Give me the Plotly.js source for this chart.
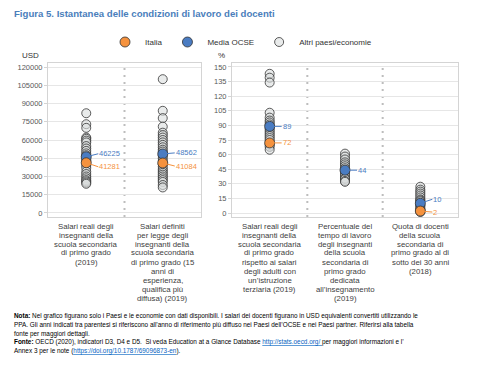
<!DOCTYPE html>
<html><head><meta charset="utf-8">
<script src="https://cdn.plot.ly/plotly-3.0.1.min.js"></script>
<style>html,body{margin:0;padding:0;background:#fff}</style>
</head><body><div id="chart" style="width:482px;height:372px"></div>
<script>
// ---- DATA ----
const leftCategories = ['salari_reali', 'salari_legge'];
const rightCategories = ['salari_relativi', 'tempo_insegnamento', 'docenti_under30'];

const leftLabels = [
  ['Salari reali degli', 'insegnanti della', 'scuola secondaria', 'di primo grado', '(2019)'],
  ['Salari definiti', 'per legge degli', 'insegnanti della', 'scuola secondaria', 'di primo grado (15', 'anni di', 'esperienza,', 'qualifica più', 'diffusa) (2019)']
];
const rightLabels = [
  ['Salari reali degli', 'insegnanti della', 'scuola secondaria', 'di primo grado', 'rispetto ai salari', 'degli adulti con', 'un\u2019istruzione', 'terziaria (2019)'],
  ['Percentuale del', 'tempo di lavoro', 'degli insegnanti', 'della scuola', 'secondaria di', 'primo grado', 'dedicata', 'all\u2019insegnamento', '(2019)'],
  ['Quota di docenti', 'della scuola', 'secondaria di', 'primo grado al di', 'sotto dei 30 anni', '(2018)']
];

const leftOthers = [
  [82000, 73000, 70000, 62000, 61000, 59500, 58000, 55000, 53000, 51000, 49000, 47500, 44000, 43000, 39000, 37000, 34000, 32000, 30000, 28500, 27000, 26000, 25000, 24000],
  [110000, 84000, 78000, 71000, 66000, 64000, 62000, 60000, 58000, 56000, 54000, 52000, 50500, 47000, 45000, 43000, 40000, 38000, 36000, 34500, 33000, 31500, 30000, 28500, 27000, 25500, 23000, 21000]
];
const rightOthers = [
  [143, 139, 134, 103, 98, 95, 93, 91, 87, 85, 83, 81, 79, 77, 75, 70, 68, 65],
  [61, 58, 55, 52, 50, 48, 46, 42, 40, 38, 36, 35, 33, 32],
  [27, 24, 22, 20, 18, 16, 14, 13, 12, 8, 7, 5, 4, 3, 1]
];

const leftItalia = [41281, 41084];
const leftOCSE = [46225, 48562];
const rightItalia = [72, null, 2];
const rightOCSE = [89, 44, 10];

const leftTicks = [0, 15000, 30000, 45000, 60000, 75000, 90000, 105000, 120000];
const rightTicks = [0, 15, 30, 45, 60, 75, 90, 105, 120, 135, 150];

const legendNames = ['Italia', 'Media OCSE', 'Altri paesi/economie'];
const titleText = 'Figura 5. Istantanea delle condizioni di lavoro dei docenti';
const noteLines = [
  '<b>Nota:</b> Nel grafico figurano solo i Paesi e le economie con dati disponibili. I salari dei docenti figurano in USD equivalenti convertiti utilizzando le',
  'PPA. Gli anni indicati tra parentesi si riferiscono all\u2019anno di riferimento più diffuso nei Paesi dell\u2019OCSE e nei Paesi partner. Riferirsi alla tabella',
  'fonte per maggiori dettagli.',
  '<b>Fonte:</b> OECD (2020), indicatori D3, D4 e D5.  Si veda Education at a Glance Database <a href="http://stats.oecd.org/"><span style="color:#0563c1;text-decoration:underline">http://stats.oecd.org/ </span></a>per maggiori informazioni e l\u2019',
  'Annex 3 per le note (<a href="https://doi.org/10.1787/69096873-en"><span style="color:#0563c1;text-decoration:underline">https://doi.org/10.1787/69096873-en</span></a>).'
];

// ---- STYLE ----
const W = 482, H = 372;
const FONT = 'Liberation Sans, Arial, sans-serif';
const ORANGE = '#f5923e', BLUE = '#4a7cc2';
const greyMarker = {size: 9, color: 'rgba(218,222,222,0.6)', line: {color: 'rgba(50,50,50,0.78)', width: 1}};
const px = v => v / W;
const py = v => 1 - v / H;

function flatX(cats, vals) { const o = []; vals.forEach((a, i) => a.forEach(() => o.push(cats[i]))); return o; }
function flatY(vals) { return [].concat(...vals); }
function pick(cats, vals) { const x = [], y = []; vals.forEach((v, i) => { if (v !== null) { x.push(cats[i]); y.push(v); } }); return {x, y}; }

const traces = [];
[[leftCategories, leftOthers, leftOCSE, leftItalia, 'x', 'y', true],
 [rightCategories, rightOthers, rightOCSE, rightItalia, 'x2', 'y2', false]].forEach(([cats, others, ocse, ita, xa, ya, sl]) => {
  traces.push({type: 'scatter', mode: 'markers', name: legendNames[2], legendrank: 3, showlegend: sl,
    x: flatX(cats, others), y: flatY(others), xaxis: xa, yaxis: ya, marker: greyMarker, hoverinfo: 'y'});
  const o = pick(cats, ocse);
  traces.push({type: 'scatter', mode: 'markers', name: legendNames[1], legendrank: 2, showlegend: sl,
    x: o.x, y: o.y, xaxis: xa, yaxis: ya, marker: {size: 10, color: BLUE, line: {color: 'rgba(50,50,50,0.8)', width: 1}}, hoverinfo: 'y'});
  const it = pick(cats, ita);
  traces.push({type: 'scatter', mode: 'markers', name: legendNames[0], legendrank: 1, showlegend: sl,
    x: it.x, y: it.y, xaxis: xa, yaxis: ya, marker: {size: 10, color: ORANGE, line: {color: 'rgba(50,50,50,0.8)', width: 1}}, hoverinfo: 'y'});
});

const annotations = [];
annotations.push({text: '<b>' + titleText + '</b>', xref: 'paper', yref: 'paper', x: px(12), y: py(14), xanchor: 'left', yanchor: 'middle', showarrow: false, font: {family: FONT, size: 9.6, color: '#4a7ebb'}});
annotations.push({text: 'USD', xref: 'paper', yref: 'paper', x: px(20), y: py(56), xanchor: 'left', yanchor: 'middle', showarrow: false, font: {family: FONT, size: 8, color: '#333'}});
annotations.push({text: '%', xref: 'paper', yref: 'paper', x: px(216), y: py(56), xanchor: 'left', yanchor: 'middle', showarrow: false, font: {family: FONT, size: 8, color: '#333'}});
function catLabels(cats, labels, xr) {
  labels.forEach((lines, i) => lines.forEach((t, j) => annotations.push({
    text: t, xref: xr, yref: 'paper', x: cats[i], y: py(226 + 9 * j), xanchor: 'center', yanchor: 'middle',
    showarrow: false, font: {family: FONT, size: 7.8, color: '#404040'}})));
}
catLabels(leftCategories, leftLabels, 'x');
catLabels(rightCategories, rightLabels, 'x2');
function valLabels(cats, vals, xr, yr, color, ays) {
  vals.forEach((v, i) => { if (v === null) return; annotations.push({
    text: String(v), xref: xr, yref: yr, x: cats[i], y: v, ax: 12, ay: ays[i], xanchor: 'left', yanchor: 'middle',
    showarrow: true, arrowhead: 0, arrowwidth: 1, arrowcolor: color, standoff: 4, borderpad: 0,
    font: {family: FONT, size: 7.5, color: color}}); });
}
valLabels(leftCategories, leftOCSE, 'x', 'y', BLUE, [-3, -1]);
valLabels(leftCategories, leftItalia, 'x', 'y', ORANGE, [4, 3]);
valLabels(rightCategories, rightOCSE, 'x2', 'y2', BLUE, [0, 0, -4]);
valLabels(rightCategories, rightItalia, 'x2', 'y2', ORANGE, [0, 0, 1]);
noteLines.forEach((t, j) => annotations.push({text: t, xref: 'paper', yref: 'paper', x: px(12), y: py(316 + 8.8 * j),
  xanchor: 'left', yanchor: 'middle', showarrow: false, font: {family: FONT, size: 6.4, color: '#000'}}));

const shapes = [];
[[0.5, 'x', 'y'], [0.5, 'x2', 'y2'], [1.5, 'x2', 'y2']].forEach(([xv, xr, yr]) => shapes.push({
  type: 'line', xref: xr, yref: yr + ' domain', x0: xv, x1: xv, y0: 0, y1: 1,
  line: {color: '#bdbdbd', width: 2, dash: '2px,5px'}, layer: 'below'}));

const yBase = {showgrid: true, gridcolor: '#e6e6e6', gridwidth: 1, zeroline: false, showline: true, mirror: true,
  linecolor: '#d4d4d4', linewidth: 1, ticks: 'outside', ticklen: 3, tickcolor: '#d4d4d4',
  tickfont: {family: FONT, size: 7.5, color: '#595959'}, domain: [py(217), py(63)], fixedrange: true};
const xBase = {type: 'category', showgrid: false, zeroline: false, showline: true, mirror: true, linecolor: '#d4d4d4',
  linewidth: 1, ticks: '', showticklabels: false, fixedrange: true};

const layout = {
  width: W, height: H, margin: {l: 0, r: 0, t: 0, b: 0}, paper_bgcolor: '#fff', plot_bgcolor: '#fff',
  font: {family: FONT, color: '#333'},
  showlegend: true,
  legend: {orientation: 'h', x: 0.5, xanchor: 'center', y: py(42), yanchor: 'middle', font: {family: FONT, size: 8, color: '#333'},
    itemwidth: 30, bgcolor: 'rgba(0,0,0,0)'},
  xaxis: Object.assign({}, xBase, {domain: [px(48), px(201)], anchor: 'y', range: [-0.5, 1.5], categoryarray: leftCategories, categoryorder: 'array'}),
  yaxis: Object.assign({}, yBase, {anchor: 'x', range: [-3300, 123300], tickvals: leftTicks, ticktext: leftTicks.map(String)}),
  xaxis2: Object.assign({}, xBase, {domain: [px(232), px(458)], anchor: 'y2', range: [-0.5, 2.5], categoryarray: rightCategories, categoryorder: 'array'}),
  yaxis2: Object.assign({}, yBase, {anchor: 'x2', range: [-4.1, 154.1], tickvals: rightTicks, ticktext: rightTicks.map(String)}),
  annotations: annotations, shapes: shapes
};
Plotly.newPlot('chart', traces, layout, {staticPlot: true, displayModeBar: false});
</script></body></html>
